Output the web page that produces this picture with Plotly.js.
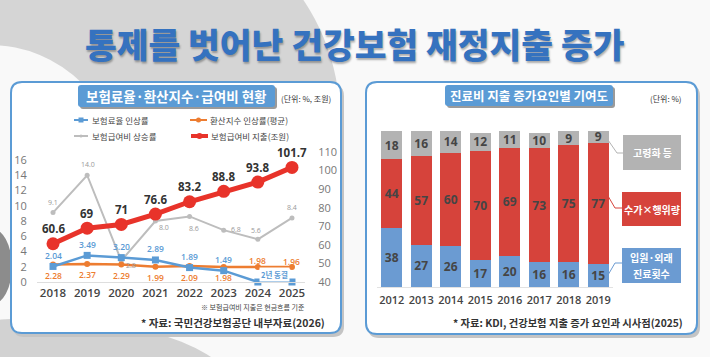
<!DOCTYPE html>
<html><head><meta charset="utf-8">
<script src="https://cdn.plot.ly/plotly-3.0.1.min.js"></script>
<style>html,body{margin:0;padding:0;background:#f9f9f9;}#chart{width:710px;height:357px;}</style>
</head><body><div id="chart"></div>
<script>
// ---------- data (left chart) ----------
const years = ['2018','2019','2020','2021','2022','2023','2024','2025'];
const premiumRate = [2.04,3.49,3.20,2.89,1.89,1.49,0,0];
const premiumLabels = ['2.04','3.49','3.20','2.89','1.89','1.49','',''];
const conversionIndex = [2.28,2.37,2.29,1.99,2.09,1.98,1.98,1.96];
const conversionLabels = ['2.28','2.37','2.29','1.99','2.09','1.98','1.98','1.96'];
const benefitGrowth = [9.1,14.0,2.8,8.0,8.6,6.8,5.6,8.4];
const benefitGrowthLabels = ['9.1','14.0','2.8','8.0','8.6','6.8','5.6','8.4'];
const benefitSpend = [60.6,69,71,76.6,83.2,88.8,93.8,101.7];
const benefitSpendLabels = ['60.6','69','71','76.6','83.2','88.8','93.8','101.7'];
const leftTicks = [0,2,4,6,8,10,12,14,16];
const rightTicks = [40,50,60,70,80,90,100,110];
// ---------- data (right chart) ----------
const yearsR = ['2012','2013','2014','2015','2016','2017','2018','2019'];
const visits = [38,27,26,17,20,16,16,15];
const priceVolume = [44,57,60,70,69,73,75,77];
const aging = [18,16,14,12,11,10,9,9];

// ---------- helpers ----------
const W=710,H=357;
const px=x=>x/W, py=y=>1-y/H;
function rr(x0,y0,x1,y1,r){
  return `M${px(x0+r)},${py(y0)} L${px(x1-r)},${py(y0)} Q${px(x1)},${py(y0)} ${px(x1)},${py(y0+r)} `+
         `L${px(x1)},${py(y1-r)} Q${px(x1)},${py(y1)} ${px(x1-r)},${py(y1)} L${px(x0+r)},${py(y1)} `+
         `Q${px(x0)},${py(y1)} ${px(x0)},${py(y1-r)} L${px(x0)},${py(y0+r)} Q${px(x0)},${py(y0)} ${px(x0+r)},${py(y0)} Z`;
}
function poly(pts){return 'M'+pts.map(p=>`${px(p[0])},${py(p[1])}`).join(' L');}
const KR = "'Noto Sans CJK KR', sans-serif";
const NUM = "'Open Sans', 'Noto Sans CJK KR', sans-serif";

const C = {blue:'#5b9bd5', orange:'#ed7d31', gray:'#bdbdbd', red:'#e8332a',
           barBlue:'#6b9bd2', barRed:'#d6433b', barGray:'#b3b3b3'};

// ---------- traces ----------
const traces = [
  {x:years,y:benefitGrowth,xaxis:'x',yaxis:'y',type:'scatter',mode:'lines+markers',
   line:{color:C.gray,width:2},marker:{size:5,color:C.gray},cliponaxis:false,hoverinfo:'skip'},
  {x:years,y:conversionIndex,xaxis:'x',yaxis:'y',type:'scatter',mode:'lines+markers',
   line:{color:C.orange,width:2.5},marker:{size:6,color:C.orange},cliponaxis:false,hoverinfo:'skip'},
  {x:years,y:premiumRate,xaxis:'x',yaxis:'y',type:'scatter',mode:'lines+markers',
   line:{color:C.blue,width:2.5},marker:{size:7,symbol:'square',color:C.blue},cliponaxis:false,hoverinfo:'skip'},
  {x:years,y:benefitSpend,xaxis:'x',yaxis:'y2',type:'scatter',mode:'lines+markers',
   line:{color:C.red,width:5},marker:{size:13,color:C.red},cliponaxis:false,hoverinfo:'skip'},
];
const barText = {size:12,color:'#454545',family:NUM,weight:700};
[[visits,C.barBlue],[priceVolume,C.barRed],[aging,C.barGray]].forEach(([v,col])=>{
  traces.push({x:yearsR,y:v,xaxis:'x2',yaxis:'y3',type:'bar',marker:{color:col,line:{width:0}},
    text:v.map(String),textposition:'inside',insidetextanchor:'middle',textangle:0,
    textfont:barText,insidetextfont:barText,hoverinfo:'skip'});
});

// ---------- shapes ----------
const shapes = [];
const below = s=>Object.assign({xref:'paper',yref:'paper',layer:'below'},s);
// background swirl
shapes.push(below({type:'circle',x0:px(125-215),x1:px(125+215),y0:py(120-215),y1:py(120+215),fillcolor:'#d5d5d5',line:{width:0}}));
shapes.push(below({type:'circle',x0:px(-10-130),x1:px(-10+130),y0:py(175-130),y1:py(175+130),fillcolor:'#f9f9f9',line:{width:0}}));
shapes.push(below({type:'circle',x0:px(-30),x1:px(12),y0:py(228),y1:py(305),fillcolor:'#8c8c8c',line:{width:0}}));
shapes.push(below({type:'circle',x0:px(-160),x1:px(240),y0:py(318),y1:py(480),fillcolor:'#d2d2d2',line:{width:0}}));
// panels
[[11,82,341,333],[366,82,697,334]].forEach(([a,b,c,d])=>{
  shapes.push(below({type:'path',path:rr(a+2,b+3,c+3,d+4,11),fillcolor:'#c4c4c4',line:{width:0}}));
  shapes.push(below({type:'path',path:rr(a,b,c,d,11),fillcolor:'#ffffff',line:{color:'#5b9bd5',width:2}}));
});
// header tabs
[[78,85,275,107],[445,85,613,106]].forEach(([a,b,c,d])=>{
  shapes.push(below({type:'path',path:rr(a+2,b+2,c+2,d+2,3),fillcolor:'#9a9a9a',line:{width:0}}));
  shapes.push(below({type:'path',path:rr(a,b,c,d,3),fillcolor:'#5b9bd5',line:{width:0}}));
});
// legend samples
const above = s=>Object.assign({xref:'paper',yref:'paper',layer:'above'},s);
shapes.push(above({type:'line',x0:px(74),x1:px(88),y0:py(120),y1:py(120),line:{color:C.blue,width:2}}));
shapes.push(above({type:'rect',x0:px(78.5),x1:px(83.5),y0:py(117.5),y1:py(122.5),fillcolor:C.blue,line:{width:0}}));
shapes.push(above({type:'line',x0:px(190),x1:px(207),y0:py(120),y1:py(120),line:{color:C.orange,width:2}}));
shapes.push(above({type:'circle',x0:px(196),x1:px(201),y0:py(117.5),y1:py(122.5),fillcolor:C.orange,line:{width:0}}));
shapes.push(above({type:'line',x0:px(74),x1:px(88),y0:py(136),y1:py(136),line:{color:C.gray,width:2}}));
shapes.push(above({type:'circle',x0:px(79.5),x1:px(82.5),y0:py(134.5),y1:py(137.5),fillcolor:C.gray,line:{width:0}}));
shapes.push(above({type:'line',x0:px(191),x1:px(208),y0:py(136),y1:py(136),line:{color:C.red,width:4}}));
shapes.push(above({type:'circle',x0:px(196.5),x1:px(202.5),y0:py(133),y1:py(139),fillcolor:C.red,line:{width:0}}));
// callout boxes and connectors (right chart)
const callouts = [
  {box:[623,135,681,170],col:C.barGray,line:[[608,140],[617,153],[623,153]],lines:[['고령화 등',152.5]]},
  {box:[622,192,681,226],col:C.barRed,line:[[608,196],[615,208],[622,208]],lines:[['수가×행위량',209]]},
  {box:[622,248,681,283],col:C.barBlue,line:[[608,275],[615,263],[622,263]],lines:[['입원·외래',257.5],['진료횟수',273.5]]},
];
callouts.forEach(c=>{
  shapes.push(above({type:'rect',x0:px(c.box[0]),x1:px(c.box[2]),y0:py(c.box[1]),y1:py(c.box[3]),fillcolor:c.col,line:{width:0}}));
  shapes.push(above({type:'path',path:poly(c.line),line:{color:c.col,width:1}}));
});

// ---------- annotations ----------
const ann = [];
const T = (x,y,text,o)=>ann.push(Object.assign({xref:'paper',yref:'paper',x:px(x),y:py(y),text,showarrow:false,
  xanchor:'center',yanchor:'middle'},o||{}));
// title
T(354,43,'통제를 벗어난 건강보험 재정지출 증가',{font:{family:KR,size:34.5,color:'#3572bf',weight:900,
  shadow:'1px 2px 2px rgba(0,0,0,0.3)'}});
// tabs
T(176.5,96,'보험료율·환산지수·급여비 현황',{font:{family:KR,size:13.5,color:'#ffffff',weight:700}});
T(529,95.5,'진료비 지출 증가요인별 기여도',{font:{family:KR,size:12.5,color:'#ffffff',weight:700}});
// units
T(333,98,'(단위: %, 조원)',{xanchor:'right',font:{family:KR,size:8,color:'#333'}});
T(684,98,'(단위: %)',{xanchor:'right',font:{family:KR,size:8,color:'#333'}});
// legend text
const lg={family:KR,size:8.5,color:'#444'};
T(90,120,'보험료율 인상률',{xanchor:'left',font:lg});
T(208,120,'환산지수 인상률(평균)',{xanchor:'left',font:lg});
T(90,136,'보험급여비 상승률',{xanchor:'left',font:lg});
T(209,136,'보험급여비 지출(조원)',{xanchor:'left',font:lg});
// notes and sources
T(307,306.5,'※ 보험급여비 지출은 현금흐름 기준',{xanchor:'right',font:{family:KR,size:7,color:'#444'}});
T(327,322,'* 자료: 국민건강보험공단 내부자료(2026)',{xanchor:'right',font:{family:KR,size:10.5,color:'#333',weight:700}});
T(685,322,'* 자료: KDI, 건강보험 지출 증가 요인과 시사점(2025)',{xanchor:'right',font:{family:KR,size:10.3,color:'#333',weight:700}});
// callout texts
callouts.forEach(c=>c.lines.forEach(([t,y])=>T((c.box[0]+c.box[2])/2,y,t,{font:{family:KR,size:10,color:'#fff',weight:700}})));

// data labels
const D=(xref,yref,x,y,text,dx,dy,font,extra)=>ann.push(Object.assign({xref,yref,x,y,text,showarrow:false,
  xshift:dx,yshift:dy,xanchor:'center',yanchor:'middle',font},extra||{}));
benefitSpend.forEach((v,i)=>D('x','y2',i,v,benefitSpendLabels[i],0,15,{family:NUM,size:11.5,color:'#333',weight:700}));
const gOff=[[0,10],[1,11],[10,-5],[9,-6],[4,-12],[12,1],[-2,9],[0,10]];
benefitGrowth.forEach((v,i)=>D('x','y',i,v,benefitGrowthLabels[i],gOff[i][0],gOff[i][1],{family:NUM,size:7,color:'#999'}));
premiumRate.forEach((v,i)=>{ if(premiumLabels[i]) D('x','y',i,v,premiumLabels[i],0,11,{family:NUM,size:8.5,color:C.blue,weight:600}); });
conversionIndex.forEach((v,i)=>D('x','y',i,v,conversionLabels[i],0,i<6?-11:6,{family:NUM,size:8.5,color:C.orange,weight:600}));
D('x','y',6.5,0,'2년 동결',0,8,{family:KR,size:7.5,color:C.blue,weight:700},{bgcolor:'#ffffff'});

// ---------- layout ----------
const layout = {
  width:W,height:H,margin:{l:0,r:0,t:0,b:0},paper_bgcolor:'#f9f9f9',plot_bgcolor:'rgba(0,0,0,0)',
  showlegend:false,barmode:'stack',bargap:0.288,
  uniformtext:{mode:'show',minsize:12},
  xaxis:{domain:[px(37),px(305)],type:'category',range:[-0.469,7.381],anchor:'y',
    showgrid:false,zeroline:false,showline:true,linecolor:'#dedede',linewidth:1,
    ticks:'',ticklen:0,
    tickfont:{family:NUM,size:11.5,color:'#444',weight:600}},
  yaxis:{domain:[py(282),py(152)],range:[0,130/7.625],tickvals:leftTicks,ticktext:leftTicks.map(String),
    showgrid:false,zeroline:false,showline:false,ticks:'outside',ticklen:7,tickcolor:'rgba(0,0,0,0)',
    tickfont:{family:NUM,size:11,color:'#777'},anchor:'x'},
  yaxis2:{overlaying:'y',side:'right',range:[40,110],tickvals:rightTicks,ticktext:rightTicks.map(String),
    showgrid:false,zeroline:false,showline:false,ticks:'outside',ticklen:10,tickcolor:'rgba(0,0,0,0)',
    tickfont:{family:NUM,size:11,color:'#777'},anchor:'x'},
  xaxis2:{domain:[px(377),px(613)],type:'category',range:[-0.5,7.5],anchor:'y3',
    showgrid:false,zeroline:false,showline:true,linecolor:'#e2e2e2',linewidth:1,
    ticks:'outside',ticklen:3,tickcolor:'rgba(0,0,0,0)',
    tickfont:{family:NUM,size:11,color:'#444',weight:600}},
  yaxis3:{domain:[py(287),py(131)],range:[0,100],visible:false,anchor:'x2'},
  shapes, annotations:ann
};
Plotly.newPlot('chart',traces,layout,{staticPlot:true,displayModeBar:false});
</script></body></html>
